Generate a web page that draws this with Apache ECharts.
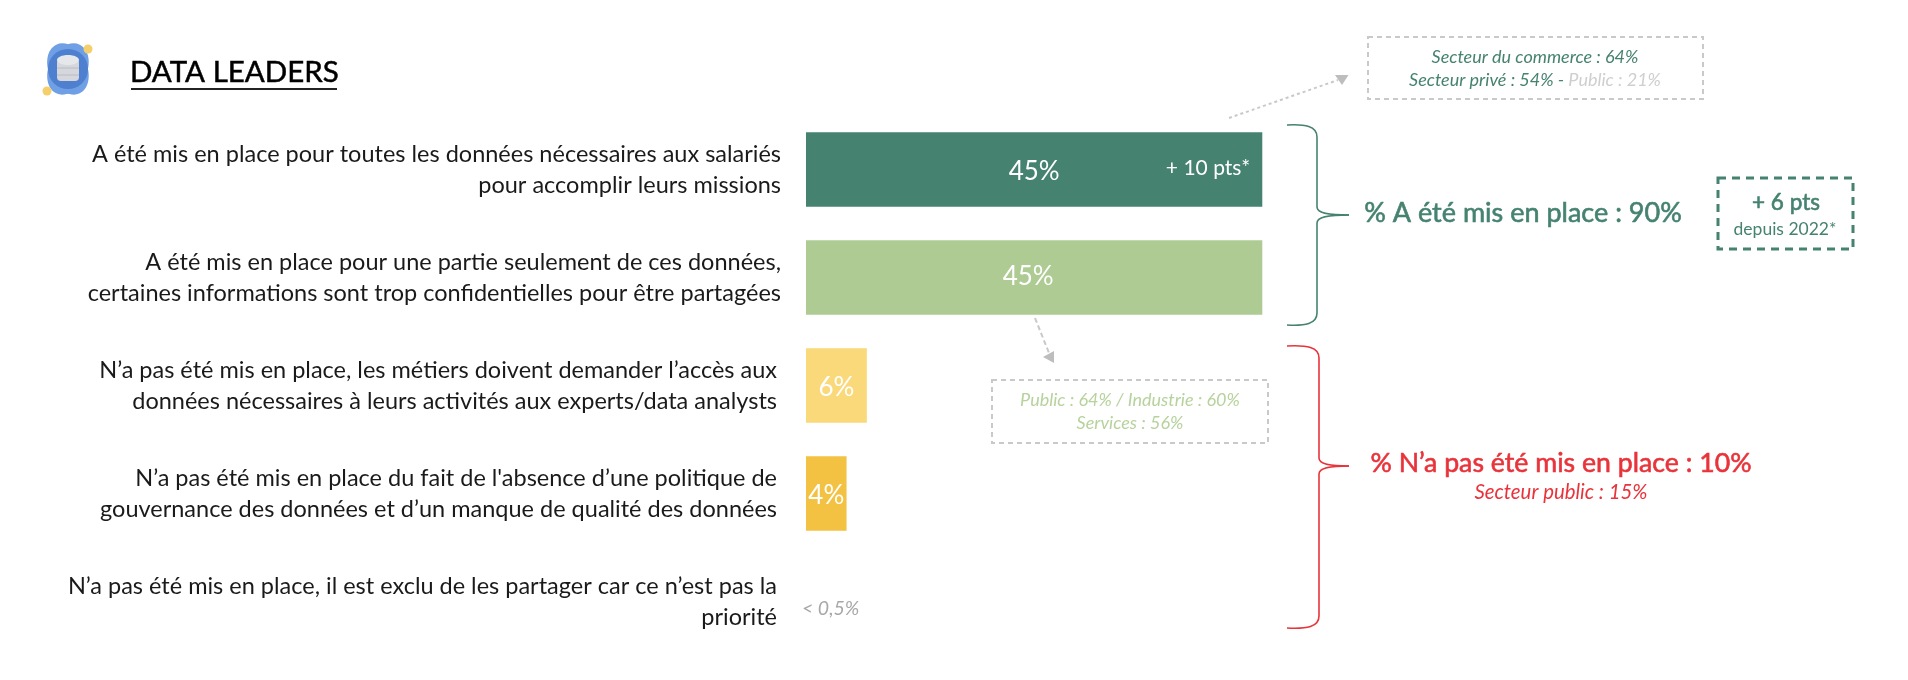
<!DOCTYPE html>
<html><head><meta charset="utf-8">
<script src="https://cdn.jsdelivr.net/npm/echarts@6/dist/echarts.min.js"></script>
<style>html,body{margin:0;padding:0;background:#fff}#c{width:1908px;height:680px}</style></head>
<body><div id="c"></div>
<script>
const categories = [
 "A été mis en place pour toutes les données nécessaires aux salariés\npour accomplir leurs missions",
 "A été mis en place pour une partie seulement de ces données,\ncertaines informations sont trop confidentielles pour être partagées",
 "N’a pas été mis en place, les métiers doivent demander l’accès aux\ndonnées nécessaires à leurs activités aux experts/data analysts",
 "N’a pas été mis en place du fait de l'absence d’une politique de\ngouvernance des données et d’un manque de qualité des données",
 "N’a pas été mis en place, il est exclu de les partager car ce n’est pas la\npriorité"
];
const values = [45, 45, 6, 4, 0];
const valueLabels = ["45%", "45%", "6%", "4%", "< 0,5%"];
const barColors = ["#458270", "#aecb93", "#fad97a", "#f4c242", "#ffffff"];
const categoryPad = [0, 0, 4, 4, 4];

const FONT = "Lato";
const GREEN = "#458270", RED = "#e9333a", GREY = "#c9c9c9", LIGHT = "#b7d29d";

function txt(x, y, text, size, fill, extra) {
  return {type:'text', silent:true, z:20, style:Object.assign({x, y, text, fontFamily:FONT, fontSize:size, fill,
    textAlign:'center', textVerticalAlign:'middle'}, extra||{})};
}
function dashRect(x, y, w, h, color, lw, dash) {
  return {type:'rect', silent:true, shape:{x,y,width:w,height:h},
    style:{fill:'none', stroke:color, lineWidth:lw, lineDash:dash}};
}
function line(x1,y1,x2,y2,color,lw,dash){
  return {type:'line', silent:true, shape:{x1,y1,x2,y2}, style:{stroke:color, lineWidth:lw, lineDash:dash||null}};
}
function tri(points, color){
  return {type:'polygon', silent:true, shape:{points}, style:{fill:color}};
}
function curve(x1,y1,cpx1,cpy1,cpx2,cpy2,x2,y2,color){
  return {type:'bezierCurve', silent:true, shape:{x1,y1,cpx1,cpy1,cpx2,cpy2,x2,y2}, style:{stroke:color, lineWidth:1.6, fill:'none'}};
}
function brace(x0,xs,xt,top,mid,bot,color){
  return [
    curve(x0,top, xs-12,top-1, xs,top+1, xs,top+12, color),
    line(xs,top+12,xs,mid-8,color,1.6),
    curve(xs,mid-8, xs,mid-2, xs+10,mid, xt,mid, color),
    curve(xs,mid+8, xs,mid+2, xs+10,mid, xt,mid, color),
    line(xs,mid+8,xs,bot-12,color,1.6),
    curve(xs,bot-12, xs,bot-1, xs-12,bot+1, x0,bot, color)
  ];
}
function icon(){
  return [
    {type:'ellipse', silent:true, shape:{cx:68,cy:69,rx:19,ry:27}, rotation:0.45, originX:68, originY:69, style:{fill:'#6f9fe4'}},
    {type:'ellipse', silent:true, shape:{cx:68,cy:69,rx:19,ry:27}, rotation:-0.45, originX:68, originY:69, style:{fill:'#6f9fe4'}},
    {type:'circle', silent:true, shape:{cx:68,cy:69,r:20}, style:{fill:'#4f7fcf'}},
    {type:'rect', silent:true, shape:{x:57,y:59,width:22,height:22,r:4}, style:{fill:'#d5d7dc'}},
    {type:'ellipse', silent:true, shape:{cx:68,cy:60,rx:11,ry:5}, style:{fill:'#e6e7ea'}},
    {type:'line', silent:true, shape:{x1:57,y1:68,x2:79,y2:68}, style:{stroke:'#b9bcc4',lineWidth:1}},
    {type:'line', silent:true, shape:{x1:57,y1:75,x2:79,y2:75}, style:{stroke:'#b9bcc4',lineWidth:1}},
    {type:'circle', silent:true, shape:{cx:88,cy:49,r:4.5}, style:{fill:'#f5cf6b'}},
    {type:'circle', silent:true, shape:{cx:47,cy:91,r:4.5}, style:{fill:'#f5cf6b'}}
  ];
}
const semi = c => ({stroke:c, lineWidth:0.6});

const chart = echarts.init(document.getElementById('c'), null, {renderer:'canvas'});
chart.setOption({
  animation:false,
  backgroundColor:'#ffffff',
  title:{text:'DATA LEADERS', left:125, top:52, textStyle:{fontFamily:FONT, fontSize:29.5, fontWeight:'normal', color:'#000', textBorderColor:'#000', textBorderWidth:0.5}},
  grid:{left:806, top:115.5, width:1014, height:540, containLabel:false},
  xAxis:{type:'value', min:0, max:100, show:false},
  yAxis:{type:'category', inverse:true, data:categories,
    axisLine:{show:false}, axisTick:{show:false},
    axisLabel:{interval:0, margin:25, align:'right',
      formatter:function(v, i){ return v.split('\n').map(s=>'{p'+categoryPad[i]+'|'+s+'}').join('\n'); },
      rich:{
        p0:{fontFamily:FONT, fontSize:23.5, color:'#1a1a1a', lineHeight:31, padding:[0,0,0,0]},
        p4:{fontFamily:FONT, fontSize:23.5, color:'#1a1a1a', lineHeight:31, padding:[0,4,0,0]}
      }}},
  series:[{
    type:'bar', barWidth:74.5, animation:false,
    data:values.map((v,i)=>{
      const o = {value:v, itemStyle:{color:barColors[i]}, label:{offset:[0,2]}};
      if(i===1) o.label.offset=[-6,-1];
      if(i===4){ o.label={position:'right', offset:[-9,7], fontStyle:'italic', fontSize:19.5, color:'#a8a8a8', distance:5}; }
      return o;
    }),
    label:{show:true, position:'inside', fontFamily:FONT, fontSize:26, color:'#fff',
      formatter:p=>valueLabels[p.dataIndex]}
  }],
  graphic:[
    ...icon(),
    line(131,89,337,89,'#222',2),
    txt(1208,168,'+ 10 pts*',21,'#fff'),
    ...brace(1287,1317,1349,125,215,325,GREEN),
    ...brace(1287,1319,1349,346,466,628,RED),
    txt(1523,213,'% A été mis en place : 90%',27,GREEN,semi(GREEN)),
    dashRect(1718,178,135,71,GREEN,3,[8,6]),
    txt(1786,203,'+ 6 pts',22.5,GREEN,semi(GREEN)),
    txt(1785,229,'depuis 2022*',17.5,GREEN),
    dashRect(1368,37,335,62,GREY,2,[5,4]),
    txt(1535,57,'Secteur du commerce : 64%',18,GREEN,{fontStyle:'italic'}),
    txt(1535,80,'{g|Secteur privé : 54% - }{h|Public : 21%}',18,GREEN,{rich:{
      g:{fontFamily:FONT,fontStyle:'italic',fontSize:18,fill:GREEN,color:GREEN},
      h:{fontFamily:FONT,fontStyle:'italic',fontSize:18,fill:'#cfcfcf',color:'#cfcfcf'}}}),
    line(1229,118,1338,80,GREY,2,[3,3]),
    tri([[1335,75],[1348.5,75],[1342,85]],'#bdbdbd'),
    line(1035,318,1049,353,GREY,2,[5,3]),
    tri([[1043,357],[1054,351],[1054,363]],'#bdbdbd'),
    dashRect(992,380,276,63,GREY,2,[5,4]),
    txt(1130,400,'Public : 64% / Industrie : 60%',18,LIGHT,{fontStyle:'italic'}),
    txt(1130,423,'Services : 56%',18,LIGHT,{fontStyle:'italic'}),
    txt(1561,463,'% N’a pas été mis en place : 10%',26.7,RED,semi(RED)),
    txt(1561,492,'Secteur public : 15%',20.4,RED,{fontStyle:'italic'})
  ]
});
</script></body></html>
